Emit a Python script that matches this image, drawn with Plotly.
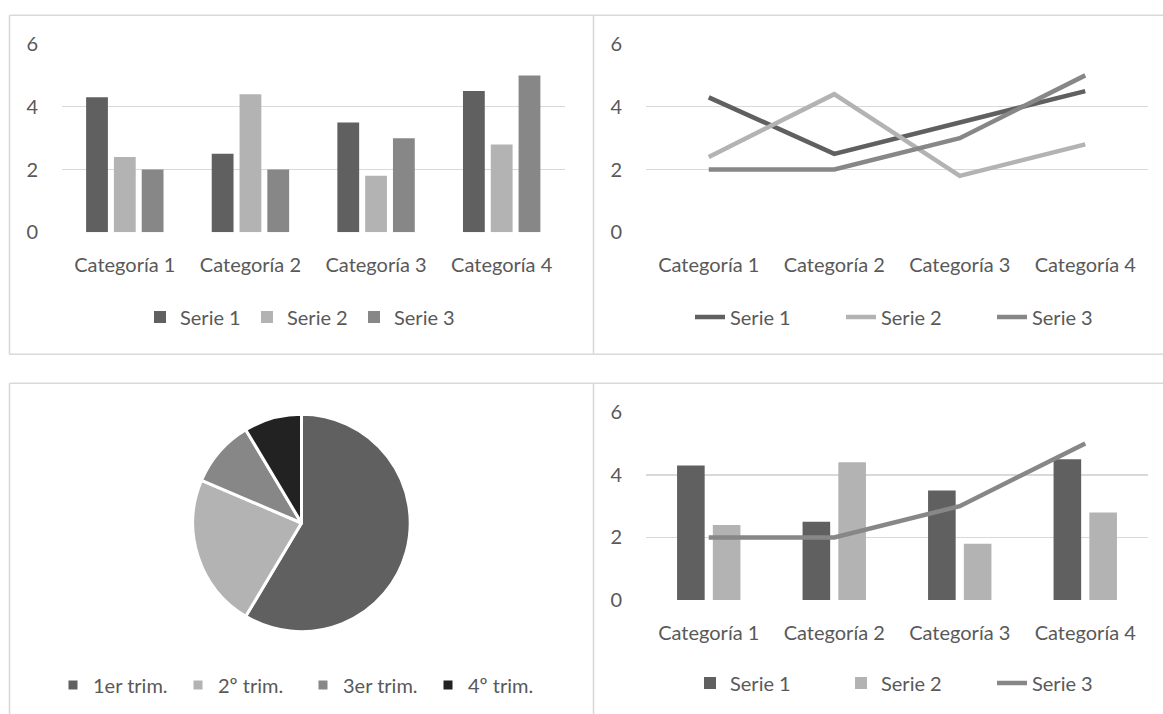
import plotly.graph_objects as go

# ---------------- data ----------------
categorias = ["Categoría 1", "Categoría 2", "Categoría 3", "Categoría 4"]
nombres_series = ["Serie 1", "Serie 2", "Serie 3"]
serie1 = [4.3, 2.5, 3.5, 4.5]
serie2 = [2.4, 4.4, 1.8, 2.8]
serie3 = [2, 2, 3, 5]
trimestres = ["1er trim.", "2º trim.", "3er trim.", "4º trim."]
ventas = [8.2, 3.2, 1.4, 1.2]
y_ticks = [0, 2, 4, 6]

# ---------------- styling ----------------
W, H = 1163, 714


def px_x(x):
    return x / W


def px_y(y):
    return 1 - y / H


C1, C2, C3, C4 = "#606060", "#b3b3b3", "#878787", "#222222"
TXT = "#595959"
GRID = "#d9d9d9"
FAM = "Lato, 'Open Sans', sans-serif"
FONT = dict(family=FAM, size=20, color=TXT)
colores = [C1, C2, C3]
series = [serie1, serie2, serie3]

fig = go.Figure()

# ---- top-left: clustered bars ----
for name, vals, col in zip(nombres_series, series, colores):
    fig.add_trace(go.Bar(x=categorias, y=vals, name=name,
                         marker=dict(color=col, line=dict(width=0)),
                         xaxis="x", yaxis="y", legend="legend",
                         hoverinfo="skip"))

# ---- top-right: lines ----
for name, vals, col in zip(nombres_series, series, colores):
    fig.add_trace(go.Scatter(x=categorias, y=vals, name=name, mode="lines",
                             line=dict(color=col, width=4.5),
                             xaxis="x2", yaxis="y2", legend="legend2",
                             hoverinfo="skip"))

# ---- bottom-left: pie ----
cx, cy, r = 301.5, 523.0, 108.7
fig.add_trace(go.Pie(labels=trimestres, values=ventas, sort=False,
                     direction="clockwise", rotation=0,
                     marker=dict(colors=[C1, C2, C3, C4],
                                 line=dict(color="white", width=3)),
                     textinfo="none", hoverinfo="skip",
                     domain=dict(x=[px_x(cx - r), px_x(cx + r)],
                                 y=[px_y(cy + r), px_y(cy - r)]),
                     legend="legend3"))

# ---- bottom-right: combo ----
bw = 0.22      # bar width (category units)
bgap = 0.065   # gap between the two bars
offs = [-(bw + bgap / 2), bgap / 2]
for name, vals, col, off in zip(nombres_series[:2], series[:2], colores[:2], offs):
    fig.add_trace(go.Bar(x=categorias, y=vals, name=name,
                         marker=dict(color=col, line=dict(width=0)),
                         width=bw, offset=off,
                         xaxis="x3", yaxis="y3", legend="legend4",
                         hoverinfo="skip"))
fig.add_trace(go.Scatter(x=categorias, y=serie3, name=nombres_series[2], mode="lines",
                         line=dict(color=C3, width=4.5),
                         xaxis="x3", yaxis="y3", legend="legend4",
                         hoverinfo="skip"))

# ---------------- axes ----------------
def xax(x0, x1, anchor):
    return dict(domain=[px_x(x0), px_x(x1)], anchor=anchor, type="category",
                range=[-0.5, len(categorias) - 0.5],
                showgrid=False, showline=False, zeroline=False, ticks="",
                tickfont=FONT, ticklabelstandoff=19, fixedrange=True)


def yax(y0, y1, anchor):
    return dict(domain=[px_y(y0), px_y(y1)], anchor=anchor, range=[0, 6],
                tickvals=y_ticks, showgrid=True, gridcolor=GRID, gridwidth=1.4,
                showline=False, zeroline=False, ticks="", tickfont=FONT,
                ticklabelstandoff=23, fixedrange=True)


def leg(xl, yc, entry=0):
    d = dict(orientation="h", x=px_x(xl), y=px_y(yc), xanchor="left",
             yanchor="middle", font=FONT, bgcolor="rgba(0,0,0,0)",
             itemclick=False, itemdoubleclick=False, traceorder="normal",
             itemwidth=30)
    if entry:
        d["entrywidth"] = entry
    return d


# ---------------- panel borders ----------------
BL, BR, BT1, BB1, BT2 = 9.5, 593.5, 15.3, 354.3, 383.3
border = dict(color=GRID, width=1.6)
shapes = []
for (xa, ya, xb, yb) in [
    (BL, BT1, W, BT1), (BL, BB1, W, BB1), (BL, BT2, W, BT2),
    (BL, BT1, BL, BB1), (BR, BT1, BR, BB1),
    (BL, BT2, BL, H), (BR, BT2, BR, H),
]:
    shapes.append(dict(type="line", xref="paper", yref="paper",
                       x0=px_x(xa), y0=px_y(ya), x1=px_x(xb), y1=px_y(yb),
                       line=border, layer="below"))

fig.update_layout(
    width=W, height=H,
    margin=dict(l=0, r=0, t=0, b=0, autoexpand=False),
    paper_bgcolor="white", plot_bgcolor="white",
    font=FONT,
    barmode="group", bargap=0.336, bargroupgap=0.216,
    xaxis=xax(62, 564.5, "y"), yaxis=yax(232.3, 44, "x"),
    xaxis2=xax(646, 1148, "y2"), yaxis2=yax(232.3, 44, "x2"),
    xaxis3=xax(646, 1148, "y3"), yaxis3=yax(600, 412.3, "x3"),
    legend=leg(140, 317, 62),
    legend2=leg(690, 317, 106),
    legend3=leg(53, 685, 80),
    legend4=leg(690, 683, 106),
    shapes=shapes,
    showlegend=True,
)

fig.write_html(
    "out.html",
    config=dict(displayModeBar=False, staticPlot=True),
    post_script="document.body.style.margin='0';document.body.style.overflow='hidden';",
)
